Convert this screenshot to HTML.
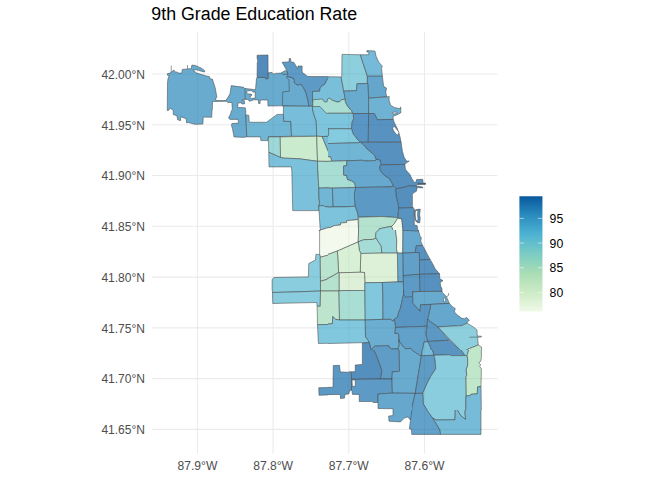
<!DOCTYPE html>
<html><head><meta charset="utf-8">
<style>
html,body{margin:0;padding:0;background:#fff;}
body{width:672px;height:480px;overflow:hidden;position:relative;font-family:"Liberation Sans",sans-serif;}
svg{position:absolute;left:0;top:0;}
text{font-family:"Liberation Sans",sans-serif;}
.ax{font-size:12.5px;fill:#4d4d4d;}
.lg{font-size:12.5px;fill:#000;}
.grid line{stroke:#ebebeb;stroke-width:1.07;}
</style></head><body>
<svg width="672" height="480" viewBox="0 0 672 480">
<defs>
<linearGradient id="cb" x1="0" y1="0" x2="0" y2="1">
<stop offset="0" stop-color="#08589E"/>
<stop offset="0.1667" stop-color="#2B8CBE"/>
<stop offset="0.3333" stop-color="#4EB3D3"/>
<stop offset="0.5" stop-color="#7BCCC4"/>
<stop offset="0.6667" stop-color="#A8DDB5"/>
<stop offset="0.8333" stop-color="#CCEBC5"/>
<stop offset="1" stop-color="#F0F9E8"/>
</linearGradient>
<clipPath id="c0"><rect x="160" y="50" width="84" height="60"/></clipPath>
<clipPath id="c1"><rect x="244" y="50" width="84" height="60"/></clipPath>
<clipPath id="c2"><rect x="328" y="50" width="84" height="60"/></clipPath>
<clipPath id="c3"><rect x="160" y="110" width="84" height="60"/></clipPath>
<clipPath id="c4"><rect x="244" y="110" width="84" height="60"/></clipPath>
<clipPath id="c5"><rect x="328" y="110" width="84" height="60"/></clipPath>
<clipPath id="c6"><rect x="244" y="170" width="84" height="60"/></clipPath>
<clipPath id="c7"><rect x="328" y="170" width="84" height="60"/></clipPath>
<clipPath id="c8"><rect x="412" y="170" width="84" height="60"/></clipPath>
<clipPath id="c9"><rect x="244" y="230" width="84" height="60"/></clipPath>
<clipPath id="c10"><rect x="328" y="230" width="84" height="60"/></clipPath>
<clipPath id="c11"><rect x="412" y="230" width="84" height="60"/></clipPath>
<clipPath id="c12"><rect x="244" y="290" width="84" height="60"/></clipPath>
<clipPath id="c13"><rect x="328" y="290" width="84" height="60"/></clipPath>
<clipPath id="c14"><rect x="412" y="290" width="84" height="60"/></clipPath>
<clipPath id="c15"><rect x="328" y="350" width="84" height="60"/></clipPath>
<clipPath id="c16"><rect x="244" y="350" width="84" height="60"/></clipPath>
<clipPath id="c17"><rect x="412" y="350" width="84" height="60"/></clipPath>
<clipPath id="c18"><rect x="328" y="410" width="84" height="60"/></clipPath>
<clipPath id="c19"><rect x="412" y="410" width="84" height="60"/></clipPath>
</defs>
<text x="151.3" y="20.0" font-size="17.65" fill="#000" textLength="205.8" lengthAdjust="spacingAndGlyphs">9th Grade Education Rate</text>
<g class="grid">
<line x1="197.4" y1="32" x2="197.4" y2="453.6"/>
<line x1="273.1" y1="32" x2="273.1" y2="453.6"/>
<line x1="348.8" y1="32" x2="348.8" y2="453.6"/>
<line x1="424.5" y1="32" x2="424.5" y2="453.6"/>
<line x1="152" y1="74" x2="497.5" y2="74"/>
<line x1="152" y1="124.8" x2="497.5" y2="124.8"/>
<line x1="152" y1="175.5" x2="497.5" y2="175.5"/>
<line x1="152" y1="226.3" x2="497.5" y2="226.3"/>
<line x1="152" y1="277.1" x2="497.5" y2="277.1"/>
<line x1="152" y1="327.9" x2="497.5" y2="327.9"/>
<line x1="152" y1="378.6" x2="497.5" y2="378.6"/>
<line x1="152" y1="429.4" x2="497.5" y2="429.4"/>
</g>
<g class="ax" text-anchor="end">
<text x="145" y="78.7" textLength="43.6" lengthAdjust="spacingAndGlyphs">42.00°N</text>
<text x="145" y="129.5" textLength="43.6" lengthAdjust="spacingAndGlyphs">41.95°N</text>
<text x="145" y="180.2" textLength="43.6" lengthAdjust="spacingAndGlyphs">41.90°N</text>
<text x="145" y="231.0" textLength="43.6" lengthAdjust="spacingAndGlyphs">41.85°N</text>
<text x="145" y="281.8" textLength="43.6" lengthAdjust="spacingAndGlyphs">41.80°N</text>
<text x="145" y="332.6" textLength="43.6" lengthAdjust="spacingAndGlyphs">41.75°N</text>
<text x="145" y="383.3" textLength="43.6" lengthAdjust="spacingAndGlyphs">41.70°N</text>
<text x="145" y="434.1" textLength="43.6" lengthAdjust="spacingAndGlyphs">41.65°N</text>
</g>
<g class="ax" text-anchor="middle">
<text x="197.4" y="470.0" textLength="39.9" lengthAdjust="spacingAndGlyphs">87.9°W</text>
<text x="273.1" y="470.0" textLength="39.9" lengthAdjust="spacingAndGlyphs">87.8°W</text>
<text x="348.8" y="470.0" textLength="39.9" lengthAdjust="spacingAndGlyphs">87.7°W</text>
<text x="424.5" y="470.0" textLength="39.9" lengthAdjust="spacingAndGlyphs">87.6°W</text>
</g>
<g id="map" stroke="#484848" stroke-width="0.55" stroke-linejoin="round" shape-rendering="geometricPrecision">
<g clip-path="url(#c0)">
<path d="M173.25 112.50 L173.25 110.38 L170.38 108.25 L168.50 110.38 L167.25 110.38 L167.50 82.50 L168.12 78.12 L169.38 75.62 L167.75 75.62 L167.25 73.75 L170.00 73.12 L171.00 72.50 L172.25 71.25 L174.00 70.00 L174.75 71.88 L177.50 72.25 L178.75 73.12 L181.88 73.12 L182.25 69.38 L187.12 69.00 L188.00 68.75 L191.25 68.75 L191.88 65.12 L195.38 65.38 L202.00 68.50 L204.88 71.00 L204.50 72.00 L202.00 71.38 L196.62 69.75 L192.88 70.12 L196.62 73.12 L206.62 76.00 L209.62 76.75 L210.00 78.88 L212.38 79.12 L215.38 88.50 L216.88 97.50 L215.62 98.12 L216.00 100.62 L225.62 100.62 L227.50 98.12 L230.00 93.75 L231.25 85.62 L250.00 88.12 L250.00 112.50 L232.50 112.50 L231.88 102.50 L228.12 102.50 L226.25 101.25 L212.50 101.50 L212.25 112.50Z" fill="#68abcf"/>
<path d="M237.88 103.00 L241.62 102.75 L241.88 104.00 L250.00 103.75 L250.00 107.75 L237.75 107.50Z" fill="#ffffff"/>
<path d="M242.00 99.88 L250.00 99.62 L250.00 100.75 L241.88 100.62Z" fill="#ffffff"/>
<path d="M171.25 65.62 L171.25 72.62" fill="none"/>
<path d="M187.50 65.00 L187.50 68.88" fill="none"/>
</g>
<g clip-path="url(#c1)">
<path d="M231.00 85.50 L245.06 88.38 L255.50 89.75 L256.50 78.12 L257.12 77.38 L265.50 77.38 L265.88 78.88 L268.12 78.50 L268.38 72.75 L272.00 72.38 L273.88 74.25 L275.38 73.38 L280.75 73.12 L285.25 70.62 L287.12 71.25 L287.75 73.12 L294.00 75.00 L294.00 105.62 L268.00 106.00 L267.75 100.00 L260.25 100.00 L260.06 103.62 L258.62 103.38 L258.50 99.88 L253.75 99.75 L252.88 100.25 L249.38 101.25 L247.88 99.38 L245.06 99.38 L242.00 99.88 L241.88 100.62 L244.44 100.88 L244.62 103.75 L237.75 104.00Z" fill="#68abcf"/>
<path d="M237.75 107.50 L245.38 107.75 L245.75 112.50 L237.75 112.50Z" fill="#68abcf"/>
<path d="M286.25 76.88 L287.12 78.12 L289.00 80.00 L289.25 91.25 L282.75 91.88 L282.50 105.88 L308.75 106.25 L308.00 100.00 L305.88 92.50 L303.38 87.50 L300.88 84.00 L298.38 85.00 L295.88 84.38 L294.00 81.88 L294.62 80.62 L293.38 78.12 L287.75 76.50Z" fill="#68abcf"/>
<path d="M282.12 62.25 L286.50 70.00 L287.12 71.25 L287.75 73.12 L287.50 76.25 L287.75 76.50 L293.38 78.12 L294.62 80.62 L294.00 81.88 L295.88 84.38 L298.38 85.00 L300.88 84.00 L303.38 87.50 L305.88 92.50 L308.00 100.00 L308.75 106.25 L312.50 106.25 L312.50 91.50 L319.62 91.25 L320.25 87.50 L324.62 84.38 L328.00 78.12 L334.00 76.88 L334.00 76.62 L307.75 76.50 L302.12 72.25 L302.12 66.00 L298.00 66.00 L297.75 68.75 L293.75 62.25 L290.88 61.88 L290.50 58.50 L289.25 58.50 L289.00 61.88Z" fill="#5d9ac5"/>
<path d="M257.12 55.25 L268.00 55.00 L268.12 78.50 L265.88 78.88 L265.50 77.38 L257.12 77.38 L257.25 62.50 L257.75 61.88 L257.50 59.38 L257.12 59.00Z" fill="#538cbc"/>
<path d="M283.38 106.00 L312.50 106.25 L312.50 112.50 L283.38 112.50Z" fill="#78bdd9"/>
<path d="M334.00 76.88 L328.00 78.12 L324.62 84.38 L320.25 87.50 L319.62 91.25 L312.50 91.50 L312.50 102.50 L334.00 102.50Z" fill="#79bfda"/>
<path d="M312.50 105.00 L321.50 105.00 L327.75 115.00 L312.50 115.00Z" fill="#7dc4dd"/>
<path d="M312.88 99.75 L322.50 99.00 L324.25 101.88 L327.12 101.88 L327.50 99.00 L329.62 98.25 L334.00 100.00 L334.00 115.00 L326.25 113.25 L320.00 106.50 L312.75 106.50Z" fill="#abded3"/>
<path d="M246.88 91.56 L247.56 90.88 L251.62 90.62 L252.25 91.56 L253.75 92.20 L255.06 91.56 L255.25 98.12 L250.38 98.38 L250.06 97.50 L250.70 95.88 L251.62 95.62 L251.50 94.06 L247.56 93.88 L246.88 93.12Z" fill="#ffffff"/>
<path d="M245.06 88.38 L245.06 99.38" fill="none"/>
<path d="M281.50 73.50 L284.00 74.50 L286.50 74.12 L287.75 73.00" fill="none"/>
</g>
<g clip-path="url(#c2)">
<path d="M321.75 76.62 L341.12 76.88 L343.75 91.12 L345.38 99.38 L343.75 99.38 L341.75 99.75 L339.25 101.88 L336.75 101.88 L332.12 100.25 L329.62 98.25 L327.50 99.00 L321.75 99.38Z" fill="#79bfda"/>
<path d="M321.75 99.38 L327.50 99.00 L329.62 98.25 L332.12 100.25 L336.75 101.88 L339.25 101.88 L341.75 99.75 L343.75 99.38 L345.38 99.38 L345.38 101.50 L346.75 104.75 L352.12 111.88 L352.50 113.75 L321.75 113.75Z" fill="#abded3"/>
<path d="M321.75 76.62 L328.00 76.75 L328.00 78.12 L321.75 78.12Z" fill="#5d9ac5"/>
<path d="M342.00 54.38 L360.25 54.75 L367.38 76.25 L367.38 83.50 L357.00 83.75 L356.50 90.62 L343.75 91.12 L341.12 76.88 L341.75 76.25Z" fill="#8dcfdd"/>
<path d="M360.25 54.75 L368.62 54.75 L369.00 52.25 L366.75 51.88 L367.00 50.62 L374.88 51.00 L376.12 56.25 L378.62 61.88 L382.38 66.25 L381.50 68.12 L382.38 76.25 L367.38 76.25Z" fill="#75bad8"/>
<path d="M367.38 76.25 L382.38 76.25 L383.62 86.25 L386.50 88.12 L385.75 92.50 L386.75 96.88 L368.62 98.12 L367.75 83.75 L367.38 83.50Z" fill="#65a6cc"/>
<path d="M357.00 83.75 L367.38 83.50 L367.75 83.75 L368.62 98.12 L368.62 113.75 L352.50 113.75 L352.12 111.88 L346.75 104.75 L345.38 101.50 L345.38 99.38 L343.75 91.12 L356.50 90.62Z" fill="#68abcf"/>
<path d="M368.62 98.12 L386.75 96.88 L389.25 96.50 L389.00 100.00 L390.50 105.00 L394.25 107.50 L399.88 108.75 L400.50 106.88 L401.50 112.50 L368.62 112.50Z" fill="#6eb3d4"/>
</g>
<g clip-path="url(#c3)">
<path d="M167.25 106.88 L167.25 110.38 L168.50 110.38 L170.38 108.25 L173.25 110.38 L173.25 114.62 L177.00 115.75 L177.50 119.62 L180.38 120.75 L180.75 116.75 L186.25 118.75 L186.62 122.88 L188.25 122.50 L195.00 124.25 L202.88 124.00 L203.25 117.12 L211.75 117.25 L212.12 106.88Z" fill="#68abcf"/>
<path d="M232.50 107.50 L230.62 113.75 L228.50 118.12 L230.00 119.38 L238.12 119.38 L238.50 123.12 L231.88 123.50 L231.50 125.62 L232.50 128.75 L234.00 136.88 L250.00 137.75 L250.00 107.50Z" fill="#68abcf"/>
</g>
<g clip-path="url(#c4)">
<path d="M237.75 107.50 L245.50 107.50 L245.88 115.00 L246.75 136.88 L237.75 137.75Z" fill="#68abcf"/>
<path d="M245.88 115.00 L248.75 115.25 L249.25 122.25 L266.50 122.25 L277.12 114.38 L283.38 114.38 L283.75 121.25 L290.88 121.50 L291.50 136.25 L268.38 136.88 L268.00 140.62 L260.88 140.62 L260.50 136.88 L246.75 136.88Z" fill="#71b6d5"/>
<path d="M283.38 107.50 L312.12 107.50 L314.00 115.00 L316.25 121.25 L316.75 136.25 L291.50 136.25 L290.88 121.50 L283.75 121.25 L283.38 114.38Z" fill="#78bdd9"/>
<path d="M312.12 107.50 L314.00 115.00 L316.25 121.25 L316.75 136.25 L322.12 136.50 L334.00 136.25 L334.00 107.50Z" fill="#7dc4dd"/>
<path d="M320.00 106.50 L326.25 113.25 L334.00 113.25 L334.00 106.50Z" fill="#abded3"/>
<path d="M268.38 136.88 L280.25 136.88 L280.50 157.50 L268.75 152.25Z" fill="#9dd8d8"/>
<path d="M280.25 136.88 L316.75 136.25 L317.50 161.25 L299.00 158.75 L284.00 158.12 L280.50 157.50Z" fill="#cbebcf"/>
<path d="M316.75 136.25 L322.12 136.50 L328.00 150.62 L334.00 165.00 L334.00 161.50 L317.50 161.25Z" fill="#cbebcf"/>
<path d="M322.12 136.50 L334.00 136.25 L334.00 165.00 L328.00 150.62Z" fill="#75bad8"/>
<path d="M268.75 152.25 L280.50 157.50 L284.00 158.12 L299.00 158.75 L317.50 161.25 L317.75 172.50 L291.75 172.50 L291.50 166.88 L269.00 166.88Z" fill="#7bc1db"/>
<path d="M317.50 161.25 L334.00 161.50 L334.00 172.50 L317.75 172.50Z" fill="#a8ddd4"/>
</g>
<g clip-path="url(#c5)">
<path d="M321.75 107.50 L350.50 107.50 L352.12 111.88 L352.50 113.25 L321.75 113.25Z" fill="#abded3"/>
<path d="M350.50 107.50 L368.62 107.50 L368.62 113.50 L353.00 113.50 L352.50 113.25 L352.12 111.88Z" fill="#68abcf"/>
<path d="M368.62 107.50 L400.50 107.50 L400.50 110.00 L401.12 112.50 L396.75 115.00 L393.00 116.25 L393.25 119.38 L377.38 119.75 L374.25 113.50 L368.62 113.50Z" fill="#6eb3d4"/>
<path d="M392.38 112.75 L394.25 112.12 L397.38 112.25 L397.00 113.50 L393.00 114.00Z" fill="#ffffff"/>
<path d="M353.00 113.50 L368.62 113.50 L368.25 142.25 L360.25 142.25 L357.38 139.38 L353.00 133.75 L351.50 128.75 L351.75 122.50 L353.62 118.75Z" fill="#5a96c3"/>
<path d="M368.62 113.50 L374.25 113.50 L377.38 119.75 L393.25 119.38 L394.25 122.50 L397.38 128.75 L399.88 136.25 L401.12 142.25 L368.25 142.25Z" fill="#5892c0"/>
<path d="M392.38 127.50 L394.50 126.62 L399.00 132.25 L397.50 135.38 L395.25 133.12 L393.50 130.62Z" fill="#ffffff"/>
<path d="M360.25 142.25 L401.12 142.25 L402.38 151.25 L404.25 157.50 L406.75 161.25 L409.25 161.00 L406.12 163.12 L404.88 164.38 L381.12 164.75 L379.88 160.00 L376.12 159.38 L374.25 155.00 L370.50 151.88 L366.75 148.75 L363.62 145.00Z" fill="#5691bf"/>
<path d="M321.75 113.25 L352.50 113.25 L353.00 113.50 L353.62 118.75 L351.75 122.50 L351.50 128.75 L321.75 128.75Z" fill="#7dc4dd"/>
<path d="M321.75 128.75 L351.50 128.75 L353.00 133.75 L357.38 139.38 L360.25 142.25 L358.00 142.75 L321.75 143.75Z" fill="#85cbe0"/>
<path d="M321.75 128.75 L328.62 128.75 L328.62 135.62 L321.75 135.62Z" fill="#75bad8"/>
<path d="M321.75 143.75 L358.00 142.75 L360.25 142.25 L363.62 145.00 L366.75 148.75 L370.50 151.88 L374.25 155.00 L376.12 159.38 L375.50 160.62 L365.50 161.00 L362.38 160.25 L331.75 161.25 L330.50 156.88 L321.75 156.50Z" fill="#72b6d6"/>
<path d="M321.75 156.50 L330.50 156.88 L331.75 161.25 L321.75 161.50Z" fill="#cbebcf"/>
<path d="M321.75 161.50 L331.75 161.25 L346.75 160.75 L346.75 165.62 L343.62 166.00 L343.62 172.50 L321.75 172.50Z" fill="#a8ddd4"/>
<path d="M346.75 160.75 L362.38 160.25 L365.50 161.00 L375.50 160.62 L376.12 159.38 L379.88 160.00 L381.12 164.75 L379.88 165.62 L380.25 172.50 L343.62 172.50 L343.62 166.00 L346.75 165.62Z" fill="#67a9ce"/>
<path d="M381.12 164.75 L404.88 164.38 L405.75 172.50 L380.25 172.50 L379.88 165.62Z" fill="#5691bf"/>
</g>
<g clip-path="url(#c6)">
<path d="M291.75 167.50 L317.75 167.50 L318.75 187.50 L319.00 198.75 L319.62 202.50 L318.75 206.25 L319.00 210.62 L292.75 210.62 L292.50 201.25Z" fill="#7bc1db"/>
<path d="M317.75 167.50 L334.00 167.50 L334.00 187.50 L318.75 188.12Z" fill="#a8ddd4"/>
<path d="M318.75 188.12 L334.00 187.50 L334.00 206.25 L325.25 206.88 L324.00 205.62 L320.88 205.62 L318.75 206.50 L319.62 202.50 L319.00 198.75Z" fill="#71b6d5"/>
<path d="M318.75 206.50 L320.88 205.62 L324.00 205.62 L325.25 206.88 L334.00 206.25 L334.00 226.88 L326.50 228.12 L322.75 229.38 L320.25 230.38 L319.62 220.00 L319.00 210.62Z" fill="#7dc3dc"/>
<path d="M320.25 230.38 L322.75 229.38 L326.50 228.12 L334.00 226.88 L334.00 232.50 L320.25 232.50Z" fill="#f3faed"/>
</g>
<g clip-path="url(#c7)">
<path d="M321.75 167.50 L343.62 167.50 L343.62 175.00 L346.75 175.62 L347.38 179.38 L351.12 180.62 L354.88 183.12 L355.50 187.50 L332.38 188.12 L321.75 187.75Z" fill="#a8ddd4"/>
<path d="M343.62 167.50 L380.25 167.50 L380.25 170.00 L381.75 172.50 L385.50 176.25 L389.25 178.12 L391.75 182.50 L393.62 186.25 L389.25 186.88 L355.50 187.50 L354.88 183.12 L351.12 180.62 L347.38 179.38 L346.75 175.62 L343.62 175.00Z" fill="#67a9ce"/>
<path d="M380.25 167.50 L405.50 165.00 L405.75 165.75 L406.50 170.75 L409.75 174.25 L412.25 179.25 L414.25 182.50 L418.00 182.50 L418.00 185.75 L409.00 185.75 L404.75 187.12 L396.12 188.75 L393.62 186.25 L391.75 182.50 L389.25 178.12 L385.50 176.25 L381.75 172.50 L380.25 170.00Z" fill="#5691bf"/>
<path d="M396.12 188.75 L404.75 187.12 L409.00 185.75 L418.00 185.75 L418.00 207.50 L398.62 208.12 L398.00 203.75 L396.12 196.25 L395.50 190.00Z" fill="#558fbe"/>
<path d="M355.50 187.50 L389.25 186.88 L393.62 186.25 L396.12 188.75 L395.50 190.00 L396.12 196.25 L398.00 203.75 L398.62 208.12 L398.00 218.12 L396.12 217.50 L381.75 216.50 L358.62 217.25 L357.38 212.50 L354.88 206.25 L354.25 193.75Z" fill="#5c99c4"/>
<path d="M321.75 187.75 L332.38 188.12 L333.25 206.88 L321.75 207.50Z" fill="#71b6d5"/>
<path d="M332.38 188.12 L355.50 187.50 L354.25 193.75 L354.88 206.25 L344.25 206.88 L333.25 206.88Z" fill="#70b4d5"/>
<path d="M321.75 207.50 L333.25 206.88 L344.25 206.88 L354.88 206.25 L357.38 212.50 L358.00 219.38 L354.88 220.00 L346.75 220.62 L346.75 222.50 L340.50 223.12 L340.50 225.00 L334.25 225.62 L330.50 227.50 L321.75 228.12Z" fill="#7dc3dc"/>
<path d="M321.75 228.12 L330.50 227.50 L334.25 225.62 L340.50 225.00 L340.50 223.12 L346.75 222.50 L346.75 220.62 L354.88 220.00 L358.00 219.38 L358.62 232.50 L321.75 232.50Z" fill="#f3faed"/>
<path d="M358.62 217.25 L381.75 216.50 L396.12 217.50 L397.38 218.75 L394.25 223.75 L391.75 226.25 L379.25 228.75 L378.62 232.50 L358.62 232.50Z" fill="#b5e2cf"/>
<path d="M379.25 228.75 L391.75 226.25 L393.62 232.50 L378.62 232.50Z" fill="#95d4da"/>
<path d="M397.38 218.75 L398.00 218.12 L401.75 218.75 L403.25 232.50 L393.62 232.50 L391.75 226.25 L394.25 223.75Z" fill="#f2faec"/>
<path d="M398.62 208.12 L418.00 207.50 L418.00 232.50 L403.25 232.50 L401.75 218.75 L398.00 218.12Z" fill="#5994c1"/>
</g>
<g clip-path="url(#c8)">
<path d="M409.50 175.62 L412.25 179.25 L414.38 182.50 L416.12 182.12 L416.50 179.62 L422.75 179.25 L423.00 182.88 L425.50 183.25 L425.50 184.25 L417.25 184.62 L416.12 185.88 L422.75 187.12 L422.75 187.88 L416.88 187.50 L415.12 186.00 L409.50 185.75Z" fill="#5691bf"/>
<path d="M409.50 185.75 L415.12 186.00 L416.88 187.50 L417.00 188.75 L416.38 191.25 L413.25 193.12 L412.38 194.38 L412.38 207.50 L409.50 207.50Z" fill="#558fbe"/>
<path d="M409.50 207.50 L413.25 207.50 L414.25 209.00 L414.25 225.00 L417.00 225.62 L418.25 232.50 L409.50 232.50Z" fill="#5994c1"/>
<path d="M414.62 210.38 L416.50 209.50 L420.25 209.12 L419.62 214.75 L420.25 218.50 L419.62 222.88 L417.12 222.50 L415.25 220.38 L414.62 216.00Z" fill="#5994c1"/>
<path d="M415.25 211.00 L418.00 210.00 L417.50 214.75 L418.00 219.12 L417.50 221.62 L415.88 219.75 L415.25 216.00Z" fill="#ffffff"/>
<path d="M417.62 183.38 L425.50 183.62" fill="none"/>
<path d="M417.62 184.00 L425.50 184.00" fill="none"/>
</g>
<g clip-path="url(#c9)">
<path d="M319.62 227.50 L334.00 227.50 L334.00 253.75 L320.25 257.25 L319.62 254.38Z" fill="#f3faed"/>
<path d="M318.75 227.50 L320.50 227.50 L320.50 230.50 L319.00 230.62Z" fill="#7dc3dc"/>
<path d="M272.12 292.50 L272.12 279.38 L274.00 277.50 L308.38 276.88 L308.75 263.50 L315.50 260.00 L315.88 254.38 L319.62 254.38 L320.25 257.25 L320.50 292.50Z" fill="#89cdde"/>
<path d="M320.25 257.25 L334.00 253.50 L334.00 277.50 L328.00 277.75 L327.12 279.38 L320.50 281.25Z" fill="#b9e4ce"/>
<path d="M320.50 281.25 L327.12 279.38 L328.00 277.75 L334.00 277.50 L334.00 292.50 L320.50 292.50Z" fill="#b5e2cf"/>
</g>
<g clip-path="url(#c10)">
<path d="M321.75 227.50 L358.62 227.50 L358.25 241.88 L337.38 251.00 L328.00 254.38 L321.75 256.25Z" fill="#f3faed"/>
<path d="M358.62 227.50 L378.62 227.50 L378.62 230.00 L376.12 232.50 L375.50 236.25 L376.12 238.12 L373.00 239.38 L363.62 239.75 L358.25 241.88Z" fill="#b5e2cf"/>
<path d="M378.62 227.50 L395.50 227.50 L395.50 230.00 L396.75 240.00 L396.50 248.75 L397.38 253.12 L381.75 253.12 L381.12 246.25 L378.62 242.50 L376.12 238.12 L375.50 236.25 L376.12 232.50 L378.62 230.00Z" fill="#95d4da"/>
<path d="M395.50 227.50 L403.00 227.50 L402.75 253.12 L397.38 253.12 L396.50 248.75 L396.75 240.00 L395.50 230.00Z" fill="#f2faec"/>
<path d="M358.25 241.88 L363.62 239.75 L373.00 239.38 L376.12 238.12 L378.62 242.50 L381.12 246.25 L381.75 253.12 L360.75 253.50 L359.25 250.00Z" fill="#a5dcd5"/>
<path d="M403.00 227.50 L418.00 227.50 L418.00 252.50 L402.75 253.12Z" fill="#67a9ce"/>
<path d="M403.00 227.50 L418.00 227.50 L418.00 231.00 L402.75 230.38Z" fill="#5994c1"/>
<path d="M402.75 253.12 L418.00 252.50 L418.00 274.75 L403.00 275.62Z" fill="#61a0c8"/>
<path d="M403.00 275.62 L418.00 274.75 L418.00 292.50 L403.62 292.50Z" fill="#5d9ac5"/>
<path d="M397.38 253.12 L402.75 253.12 L403.00 275.62 L403.25 281.88 L397.75 281.88Z" fill="#68abcf"/>
<path d="M360.75 253.50 L381.75 253.12 L397.38 253.12 L397.75 281.88 L382.38 282.50 L365.50 282.75 L364.88 283.12 L364.50 272.50 L360.25 272.25Z" fill="#dcf1d7"/>
<path d="M337.38 251.00 L358.25 241.88 L359.25 250.00 L360.75 253.50 L360.25 272.25 L339.25 272.75 L338.62 272.50 L338.00 261.25Z" fill="#d8f0d5"/>
<path d="M321.75 256.25 L328.00 254.38 L337.38 251.00 L338.00 261.25 L338.62 272.50 L328.00 278.50 L321.75 280.00Z" fill="#b9e4ce"/>
<path d="M321.75 280.00 L328.00 278.50 L338.62 272.50 L339.25 272.75 L339.25 292.50 L321.75 292.50Z" fill="#b5e2cf"/>
<path d="M339.25 272.75 L360.25 272.25 L364.50 272.50 L364.88 283.12 L364.88 292.50 L339.25 292.50Z" fill="#dcf1d7"/>
<path d="M364.88 283.12 L365.50 282.75 L382.38 282.50 L382.75 292.50 L364.88 292.50Z" fill="#81c8df"/>
<path d="M382.38 282.50 L397.75 281.88 L403.25 281.88 L403.62 292.50 L382.75 292.50Z" fill="#6bafd2"/>
</g>
<g clip-path="url(#c11)">
<path d="M409.50 227.50 L418.00 227.50 L418.25 230.00 L420.12 236.25 L421.38 237.50 L420.75 241.25 L422.62 245.62 L416.38 245.62 L415.12 252.50 L409.50 252.75Z" fill="#67a9ce"/>
<path d="M402.00 227.50 L418.00 227.50 L418.25 230.00 L418.50 231.12 L417.12 231.00 L402.75 230.38Z" fill="#5994c1"/>
<path d="M416.38 245.62 L422.62 245.62 L424.50 248.75 L427.00 253.75 L430.12 259.38 L419.50 260.00 L419.25 252.50 L415.12 252.50Z" fill="#5892c0"/>
<path d="M419.50 260.00 L430.12 259.38 L432.62 263.75 L435.12 268.75 L439.50 273.75 L419.50 274.38Z" fill="#5892c0"/>
<path d="M419.50 274.38 L439.50 273.75 L439.75 278.75 L443.00 280.62 L440.12 282.50 L440.75 286.25 L442.00 288.75 L441.75 292.50 L419.75 292.50Z" fill="#5691bf"/>
<path d="M409.50 252.75 L415.12 252.50 L419.25 252.50 L419.50 260.00 L419.50 274.38 L409.50 274.75Z" fill="#61a0c8"/>
<path d="M409.50 274.75 L419.50 274.38 L419.75 292.50 L409.50 292.50Z" fill="#5d9ac5"/>
</g>
<g clip-path="url(#c12)">
<path d="M272.12 287.50 L320.50 287.50 L320.50 291.00 L296.50 291.88 L272.50 292.50Z" fill="#89cdde"/>
<path d="M272.50 292.50 L296.50 291.88 L320.50 291.00 L320.25 306.25 L317.12 306.25 L316.75 302.50 L289.00 303.12 L272.75 303.50Z" fill="#89cdde"/>
<path d="M320.50 287.50 L334.00 287.50 L334.00 291.00 L320.50 291.00Z" fill="#b5e2cf"/>
<path d="M320.50 291.00 L334.00 291.00 L334.00 324.38 L317.50 324.75 L317.12 306.25 L320.25 306.25Z" fill="#bde5cd"/>
<path d="M317.50 324.75 L334.00 324.38 L334.00 343.12 L318.38 343.50Z" fill="#81c8df"/>
</g>
<g clip-path="url(#c13)">
<path d="M338.62 287.50 L364.88 287.50 L364.88 290.38 L339.00 290.62Z" fill="#dcf1d7"/>
<path d="M321.75 287.50 L338.62 287.50 L339.00 290.62 L338.75 291.00 L321.75 291.00Z" fill="#b5e2cf"/>
<path d="M321.75 291.00 L338.75 291.00 L339.00 290.62 L339.50 320.00 L335.50 319.38 L332.75 316.50 L332.38 323.75 L321.75 324.38Z" fill="#bde5cd"/>
<path d="M339.00 290.62 L364.88 290.38 L365.25 320.00 L339.50 320.00Z" fill="#a9ded4"/>
<path d="M364.88 287.50 L382.75 287.50 L383.00 319.38 L365.25 320.00 L364.88 290.38Z" fill="#81c8df"/>
<path d="M382.75 287.50 L403.62 287.50 L403.62 294.38 L402.75 297.50 L401.75 302.50 L400.25 308.75 L398.62 312.50 L397.75 316.88 L394.25 319.38 L393.00 321.25 L390.50 319.38 L383.00 319.38Z" fill="#6bafd2"/>
<path d="M403.62 287.50 L418.00 287.50 L418.00 326.25 L395.50 327.50 L394.88 322.50 L394.25 319.38 L397.75 316.88 L398.62 312.50 L400.25 308.75 L401.75 302.50 L402.75 297.50 L403.62 294.38Z" fill="#5a96c3"/>
<path d="M403.62 287.50 L418.00 287.50 L418.00 296.25 L412.00 296.50 L405.50 297.25 L403.62 294.38Z" fill="#5d9ac5"/>
<path d="M321.75 324.38 L332.38 323.75 L332.75 316.50 L335.50 319.38 L339.50 320.00 L365.25 320.00 L365.50 336.88 L368.00 340.00 L369.25 342.50 L328.00 343.50 L321.75 343.50Z" fill="#81c8df"/>
<path d="M365.25 320.00 L383.00 319.38 L390.50 319.38 L393.00 321.25 L394.25 319.38 L394.88 322.50 L395.50 327.50 L395.00 333.50 L397.75 333.12 L398.62 334.00 L399.00 338.12 L398.88 339.38 L399.25 345.00 L398.00 348.75 L391.75 349.00 L389.25 347.50 L388.62 345.62 L374.25 346.25 L372.38 348.75 L371.75 352.50 L369.25 342.50 L368.00 340.00 L365.50 336.88Z" fill="#6baed1"/>
<path d="M395.50 327.50 L418.00 326.25 L418.00 353.75 L413.88 351.25 L410.38 348.38 L405.12 348.75 L399.50 341.88 L399.00 338.12 L398.62 334.00 L397.75 333.12 L395.00 333.50Z" fill="#62a1c9"/>
<path d="M398.88 339.38 L399.50 341.88 L405.12 348.75 L410.38 348.38 L413.88 351.25 L418.00 353.75 L398.00 353.75 L398.00 348.75 L399.25 345.00Z" fill="#68abcf"/>
<path d="M362.38 343.12 L369.25 342.50 L371.75 352.50 L362.38 352.50Z" fill="#558fbe"/>
<path d="M371.75 352.50 L372.38 348.75 L374.25 346.25 L388.62 345.62 L389.25 347.50 L391.75 349.00 L398.00 348.75 L398.00 352.50Z" fill="#5f9dc7"/>
</g>
<g clip-path="url(#c14)">
<path d="M409.50 287.50 L419.75 287.50 L419.75 291.50 L409.50 291.88Z" fill="#5d9ac5"/>
<path d="M419.75 285.00 L440.25 286.00 L441.88 289.38 L442.12 291.38 L419.75 291.50Z" fill="#5691bf"/>
<path d="M412.62 291.88 L419.75 291.50 L442.12 291.38 L442.38 292.62 L444.88 295.12 L446.50 296.88 L449.00 302.62 L449.50 303.38 L430.75 304.38 L420.50 304.75 L420.12 311.25 L412.62 303.12Z" fill="#68abcf"/>
<path d="M443.25 298.50 L444.75 297.50 L446.00 301.25 L444.25 302.25Z" fill="#ffffff"/>
<path d="M430.75 304.38 L449.50 303.38 L450.62 304.75 L452.75 306.88 L455.25 308.50 L454.38 311.88 L457.38 315.12 L461.50 318.12 L464.88 318.88 L466.12 317.25 L469.38 320.12 L467.38 322.25 L467.00 323.12 L462.00 325.62 L437.62 326.88 L428.25 320.00 L427.62 318.75 L429.50 311.25Z" fill="#66a8cd"/>
<path d="M409.50 291.88 L412.62 291.88 L412.62 303.12 L420.12 311.25 L420.50 304.75 L430.75 304.38 L429.50 311.25 L427.62 318.75 L427.00 326.25 L409.50 326.88Z" fill="#5a96c3"/>
<path d="M437.62 326.88 L462.00 325.62 L467.00 323.12 L473.25 326.88 L477.00 330.00 L477.25 336.00 L481.38 336.25 L481.38 337.00 L477.62 337.25 L478.25 345.00 L468.88 348.75 L462.00 352.50 L459.50 349.38Z" fill="#8dcfdd"/>
<path d="M468.88 348.75 L478.25 345.00 L481.38 346.88 L482.00 352.50 L462.00 352.50Z" fill="#c1e7cb"/>
<path d="M427.62 319.00 L428.25 320.00 L437.62 326.88 L448.88 339.38 L448.25 340.25 L427.62 341.50 L425.75 333.75 L427.00 326.25Z" fill="#5b98c4"/>
<path d="M427.62 341.50 L448.25 340.25 L448.88 339.38 L459.50 349.38 L462.00 352.50 L432.00 352.50 L429.50 345.00Z" fill="#5a95c2"/>
<path d="M423.88 341.88 L427.62 341.50 L429.50 345.00 L432.00 352.50 L422.00 352.50Z" fill="#77bdd9"/>
<path d="M409.50 347.50 L413.25 348.75 L414.50 352.50 L409.50 352.50Z" fill="#68abcf"/>
<path d="M409.50 326.88 L427.00 326.25 L425.75 333.75 L427.62 341.50 L423.88 341.88 L422.62 348.75 L422.00 352.50 L417.00 353.38 L413.88 351.25 L412.00 349.75 L409.50 348.12Z" fill="#62a1c9"/>
<path d="M469.50 337.25 L477.62 337.00" fill="none"/>
<path d="M446.25 296.62 L448.00 296.00 L448.62 295.00 L448.62 293.00" fill="none"/>
</g>
<g clip-path="url(#c15)">
<path d="M371.75 347.50 L398.00 347.50 L399.25 350.00 L399.50 371.25 L392.38 371.88 L392.00 379.00 L380.25 379.00 L381.12 375.00 L381.75 370.62 L379.88 365.00 L376.12 355.00 L373.62 350.00Z" fill="#5f9dc7"/>
<path d="M362.38 347.50 L371.75 347.50 L373.62 350.00 L376.12 355.00 L379.88 365.00 L381.75 370.62 L381.12 375.00 L380.25 379.00 L354.88 379.38 L351.50 379.00 L351.50 371.88 L355.25 371.50 L355.25 365.00 L362.38 364.38Z" fill="#558fbe"/>
<path d="M351.50 379.38 L380.25 379.00 L392.00 379.00 L392.38 393.12 L378.00 394.00 L377.75 402.50 L373.00 402.50 L372.38 401.50 L359.25 401.50 L359.25 394.38 L352.38 394.38 L352.00 390.62 L351.50 390.25Z" fill="#5d9ac5"/>
<path d="M352.00 380.00 L355.25 380.00 L355.25 386.25 L352.38 386.50Z" fill="#ffffff"/>
<path d="M321.75 387.50 L333.00 387.25 L333.25 365.62 L339.50 365.25 L340.25 371.88 L348.00 372.25 L351.12 371.50 L351.50 379.00 L351.50 390.25 L349.88 390.62 L348.62 394.00 L344.88 394.38 L344.50 398.12 L340.50 398.50 L340.25 394.38 L321.75 394.75Z" fill="#5b98c4"/>
<path d="M398.00 347.50 L418.00 347.50 L418.00 393.38 L392.38 393.12 L392.00 379.00 L392.38 371.88 L399.50 371.25 L399.25 350.00Z" fill="#68abcf"/>
<path d="M378.00 394.00 L392.38 393.12 L418.00 393.38 L418.00 412.50 L393.00 412.50 L393.00 408.75 L378.00 408.50Z" fill="#66a7cd"/>
</g>
<g clip-path="url(#c16)">
<path d="M318.75 387.75 L334.00 387.25 L334.00 394.75 L319.00 395.25Z" fill="#5b98c4"/>
</g>
<g clip-path="url(#c17)">
<path d="M409.50 347.50 L413.88 351.25 L417.00 353.38 L420.75 355.62 L421.38 355.75 L415.25 393.38 L408.25 393.38Z" fill="#68abcf"/>
<path d="M408.25 393.38 L415.25 393.38 L413.62 400.00 L411.75 410.00 L411.00 415.00 L408.25 415.00Z" fill="#66a7cd"/>
<path d="M409.50 347.50 L422.62 347.50 L421.75 355.00 L420.75 355.62 L417.00 353.38 L413.88 351.25 L412.00 349.75 L409.50 348.12Z" fill="#62a1c9"/>
<path d="M422.62 347.50 L432.00 347.50 L433.25 352.50 L434.00 355.25 L421.38 355.75 L420.75 355.62 L421.75 355.00Z" fill="#77bdd9"/>
<path d="M432.00 347.50 L459.50 347.50 L465.12 355.62 L450.75 355.62 L449.50 354.75 L434.50 355.25 L434.00 355.25 L433.25 352.50Z" fill="#5a95c2"/>
<path d="M459.50 347.50 L469.50 347.50 L467.00 355.62 L465.12 355.62Z" fill="#8dcfdd"/>
<path d="M469.50 347.50 L481.38 347.50 L481.38 357.50 L480.75 361.25 L478.88 362.50 L480.75 365.00 L479.50 366.25 L481.38 368.75 L481.00 386.50 L477.62 386.88 L477.25 393.75 L470.75 394.38 L470.12 395.62 L466.00 396.00 L465.75 376.88 L466.75 375.00 L466.00 370.00 L467.62 365.00 L467.62 358.75 L467.00 355.62Z" fill="#c1e7cb"/>
<path d="M421.38 355.75 L434.00 355.25 L435.12 360.00 L435.75 368.75 L430.75 376.25 L426.75 384.00 L423.00 392.75 L422.75 393.38 L415.25 393.38Z" fill="#5e9cc6"/>
<path d="M434.00 355.25 L434.50 355.25 L449.50 354.75 L450.75 355.62 L465.12 355.62 L467.00 355.62 L467.62 358.75 L467.62 365.00 L466.00 370.00 L466.75 375.00 L465.75 376.88 L466.00 396.00 L465.75 415.00 L430.25 415.00 L429.25 413.38 L423.25 404.00 L422.75 393.38 L423.00 392.75 L426.75 384.00 L430.75 376.25 L435.75 368.75 L435.12 360.00Z" fill="#89cdde"/>
<path d="M466.00 396.00 L470.12 395.62 L470.75 394.38 L477.25 393.75 L477.62 386.88 L481.00 386.50 L481.38 412.50 L465.75 412.50Z" fill="#76bbd8"/>
<path d="M415.25 393.38 L422.75 393.38 L423.25 404.00 L429.25 413.38 L430.25 415.00 L411.00 415.00 L411.75 410.00 L413.62 400.00Z" fill="#62a1c9"/>
</g>
<g clip-path="url(#c18)">
<path d="M393.00 407.50 L393.00 415.62 L388.62 416.00 L389.00 421.25 L400.50 421.88 L404.25 418.12 L408.00 416.88 L409.88 419.38 L410.50 420.00 L418.00 407.50Z" fill="#66a7cd"/>
<path d="M413.12 400.00 L410.50 420.00 L409.38 428.75 L411.50 429.38 L411.75 434.38 L418.00 434.38 L418.00 400.00Z" fill="#62a1c9"/>
</g>
<g clip-path="url(#c19)">
<path d="M405.75 400.00 L413.62 400.00 L411.75 410.00 L411.25 418.75 L410.25 420.62 L405.75 417.50Z" fill="#66a7cd"/>
<path d="M413.62 400.00 L411.75 410.00 L411.25 418.75 L409.38 428.75 L411.25 429.38 L411.50 434.38 L440.62 434.38 L440.00 430.00 L436.25 423.75 L432.75 418.12 L426.88 410.00 L423.75 405.00 L423.12 400.00Z" fill="#62a1c9"/>
<path d="M423.12 400.00 L423.75 405.00 L426.88 410.00 L432.75 418.12 L436.25 420.00 L455.00 419.75 L455.25 410.00 L456.88 409.00 L458.75 412.50 L461.25 416.25 L465.62 419.38 L465.00 412.50 L466.25 400.00Z" fill="#89cdde"/>
<path d="M432.75 418.12 L436.25 423.75 L440.00 430.00 L440.62 434.38 L481.00 434.38 L481.00 400.00 L466.25 400.00 L465.00 412.50 L465.62 419.38 L461.25 416.25 L458.75 412.50 L456.88 409.00 L455.25 410.00 L455.00 419.75 L436.25 420.00Z" fill="#76bbd8"/>
</g>
</g>
<g id="gridov" stroke="#000" stroke-opacity="0.04" stroke-width="1.07">
<line x1="197.4" x2="197.4" y1="65" y2="71"/>
<line x1="197.4" x2="197.4" y1="72" y2="125"/>
<line x1="273.1" x2="273.1" y1="73" y2="107"/>
<line x1="273.1" x2="273.1" y1="116" y2="168"/>
<line x1="273.1" x2="273.1" y1="277" y2="304"/>
<line x1="348.8" x2="348.8" y1="54" y2="344"/>
<line x1="348.8" x2="348.8" y1="371" y2="395"/>
<line x1="424.5" x2="424.5" y1="182" y2="185"/>
<line x1="424.5" x2="424.5" y1="247" y2="435"/>
<line y1="74" y2="74" x1="167" x2="205"/>
<line y1="74" y2="74" x1="256" x2="306"/>
<line y1="74" y2="74" x1="341" x2="383"/>
<line y1="124.8" y2="124.8" x1="192" x2="203"/>
<line y1="124.8" y2="124.8" x1="231" x2="396"/>
<line y1="175.5" y2="175.5" x1="291" x2="411"/>
<line y1="226.3" y2="226.3" x1="319" x2="418"/>
<line y1="277.1" y2="277.1" x1="273" x2="441"/>
<line y1="327.9" y2="327.9" x1="317" x2="475"/>
<line y1="378.6" y2="378.6" x1="332" x2="482"/>
<line y1="429.4" y2="429.4" x1="409" x2="482"/>
</g>
<rect x="519.4" y="196.25" width="23.04" height="115.2" fill="url(#cb)"/>
<g stroke="#fff" stroke-width="0.53">
<line x1="519.4" x2="524" y1="218.4" y2="218.4"/><line x1="537.8" x2="542.44" y1="218.4" y2="218.4"/>
<line x1="519.4" x2="524" y1="243.07" y2="243.07"/><line x1="537.8" x2="542.44" y1="243.07" y2="243.07"/>
<line x1="519.4" x2="524" y1="267.73" y2="267.73"/><line x1="537.8" x2="542.44" y1="267.73" y2="267.73"/>
<line x1="519.4" x2="524" y1="292.4" y2="292.4"/><line x1="537.8" x2="542.44" y1="292.4" y2="292.4"/>
</g>
<g class="lg">
<text x="549.6" y="222.9" textLength="13.6" lengthAdjust="spacingAndGlyphs">95</text>
<text x="549.6" y="247.6" textLength="13.6" lengthAdjust="spacingAndGlyphs">90</text>
<text x="549.6" y="272.2" textLength="13.6" lengthAdjust="spacingAndGlyphs">85</text>
<text x="549.6" y="296.9" textLength="13.6" lengthAdjust="spacingAndGlyphs">80</text>
</g>
</svg>
</body></html>
